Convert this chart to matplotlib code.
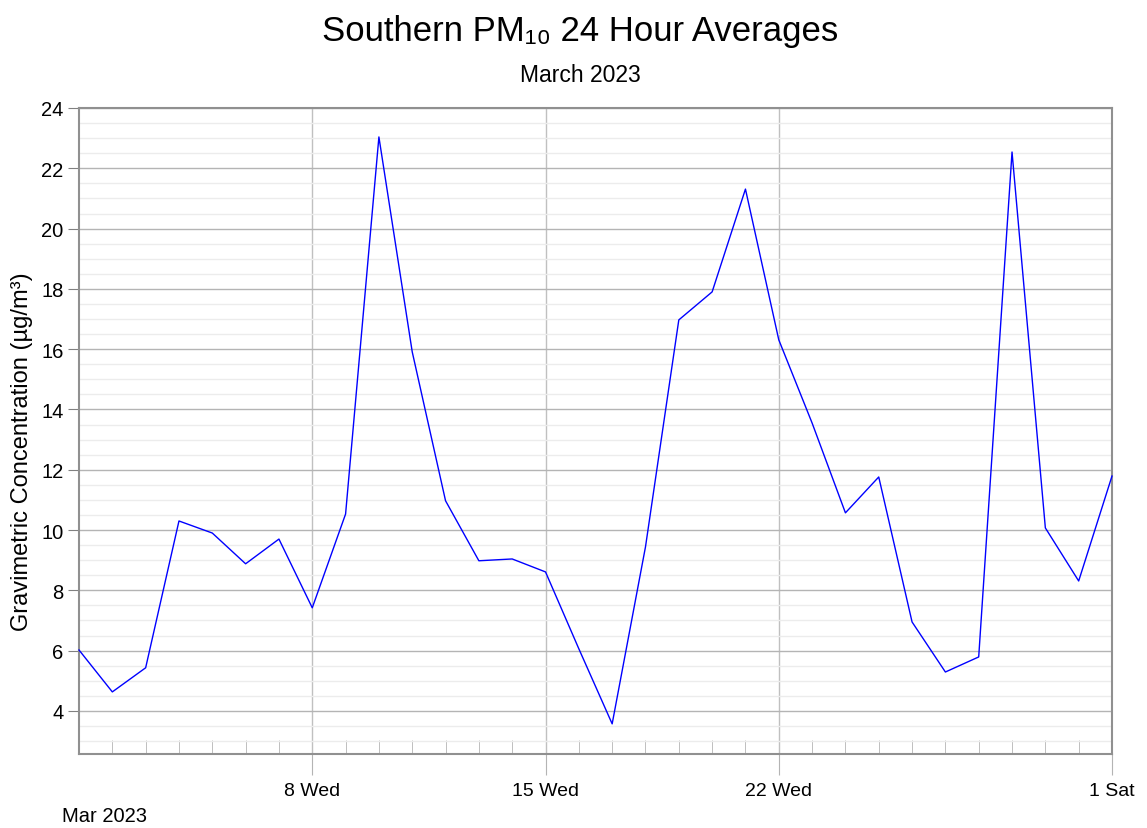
import numpy as np
import pandas as pd
import matplotlib
matplotlib.use("Agg")
import matplotlib.pyplot as plt
import matplotlib.dates as mdates
from matplotlib.ticker import MultipleLocator, FixedLocator, FuncFormatter

# données (moyennes 24 h, µg/m³)
jours = pd.date_range("2023-03-01", "2023-04-01", freq="D")
pm10 = [6.02, 4.63, 5.43, 10.30, 9.90, 8.88, 9.70, 7.42, 10.53, 23.04,
        15.91, 10.97, 8.98, 9.04, 8.61, 6.06, 3.57, 9.44, 16.97, 17.90,
        21.31, 16.31, 13.55, 10.57, 11.76, 6.95, 5.29, 5.79, 22.54, 10.07,
        8.31, 11.79]
ticks_maj = pd.to_datetime(["2023-03-08", "2023-03-15", "2023-03-22", "2023-04-01"])

police = ["Liberation Sans", "DejaVu Sans"]
plt.rcParams["font.family"] = police

fig = plt.figure(figsize=(11.47, 8.29), dpi=100)
ax = fig.add_axes([79 / 1147, 1 - 755 / 829, (1112 - 79) / 1147, (755 - 109) / 829])

ax.plot(jours, pm10, color="#0000ff", lw=1.0, zorder=3, clip_on=False)

ax.set_xlim(jours[0], jours[-1])
ax.set_ylim(2.57, 24)

# axe y
ax.yaxis.set_minor_locator(MultipleLocator(0.5))
ax.set_yticks(np.arange(4, 25, 2))
ax.grid(axis="y", which="major", color="#b4b4b4", lw=1.0)
ax.grid(axis="y", which="minor", color="#ececec", lw=1.0)
ax.tick_params(axis="y", which="major", length=8, color="#808080",
               labelsize=14.5, pad=3)
ax.tick_params(axis="y", which="minor", length=0)

# axe x
ax.xaxis.set_major_locator(FixedLocator(mdates.date2num(ticks_maj)))
ax.xaxis.set_major_formatter(FuncFormatter(
    lambda v, p: f"{mdates.num2date(v).day} {mdates.num2date(v).strftime('%a')}"))
ax.xaxis.set_minor_locator(mdates.DayLocator())
ax.grid(axis="x", which="major", color="#c0c0c0", lw=1.0)
ax.tick_params(axis="x", which="major", length=15, color="#b4b4b4",
               labelsize=14, pad=5)
ax.tick_params(axis="x", which="minor", direction="in", length=10,
               color="#b4b4b4")

for sp in ax.spines.values():
    sp.set_color("#909090")
    sp.set_linewidth(1.5)
ax.set_axisbelow(True)

ax.set_ylabel("Gravimetric Concentration (µg/m³)", fontsize=17)
ax.yaxis.set_label_coords(-0.0445, 0.47)

fig.text(580 / 1147, 1 - 31 / 829, "Southern PM₁₀ 24 Hour Averages",
         ha="center", va="center", fontsize=25)
fig.text(580 / 1147, 1 - 75 / 829, "March 2023",
         ha="center", va="center", fontsize=16.5)
fig.text(62 / 1147, 1 - 817 / 829, "Mar 2023",
         ha="left", va="center", fontsize=14.5)

fig.savefig("out.png", dpi=100)
